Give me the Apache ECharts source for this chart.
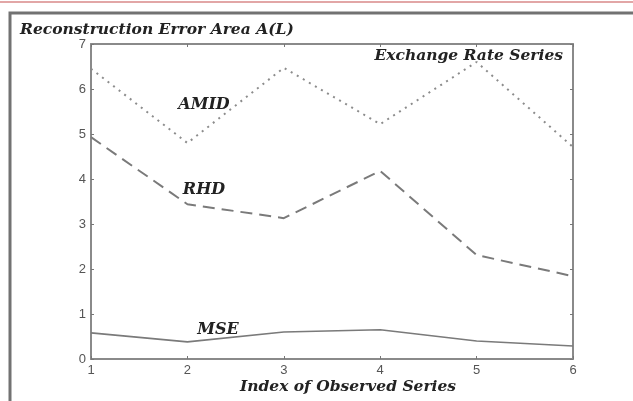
<!DOCTYPE html>
<html>
<head>
<meta charset="utf-8">
<script src="https://cdn.jsdelivr.net/npm/echarts@6/dist/echarts.min.js"></script>
<style>
  html, body { margin: 0; padding: 0; background: #fff; }
  #chart { width: 633px; height: 401px; }
</style>
</head>
<body>
<div id="chart"></div>
<script>
// Index of observed series (x) and reconstruction error area per method
const seriesIndex = [1, 2, 3, 4, 5, 6];
const amidValues = [6.45, 4.8, 6.47, 5.22, 6.6, 4.71];
const rhdValues = [4.93, 3.44, 3.13, 4.18, 2.31, 1.84];
const mseValues = [0.58, 0.38, 0.6, 0.65, 0.4, 0.29];
const yTicks = [0, 1, 2, 3, 4, 5, 6, 7];

const chart = echarts.init(document.getElementById('chart'), null, { renderer: 'canvas' });

const pairs = vals => seriesIndex.map((x, i) => [x, vals[i]]);
const serif = '"DejaVu Serif", "Liberation Serif", serif';
const sans = '"Liberation Sans", Arial, sans-serif';
const lineGrey = '#7a7a7a';
const labelFont = 'italic bold 16px ' + serif;

const baseAxis = {
  axisLine: { show: true, onZero: false, lineStyle: { color: '#8a8a8a', width: 2 } },
  axisTick: { show: true, inside: true, length: 3, lineStyle: { color: '#777', width: 1 } },
  splitLine: { show: false }
};

chart.setOption({
  animation: false,
  backgroundColor: '#fff',
  title: [
    {
      text: 'Reconstruction Error Area A(L)',
      left: 15, top: 17,
      textStyle: { fontFamily: serif, fontStyle: 'italic', fontWeight: 'bold', fontSize: 15.5, color: '#222' }
    },
    {
      text: 'Exchange Rate Series',
      right: 65, top: 43,
      textStyle: { fontFamily: serif, fontStyle: 'italic', fontWeight: 'bold', fontSize: 15.5, color: '#222' }
    }
  ],
  grid: { left: 91, top: 44, right: 60, bottom: 42, containLabel: false },
  xAxis: [
    Object.assign({}, baseAxis, {
      type: 'value', min: 1, max: 6, interval: 1, position: 'bottom',
      axisLabel: { fontFamily: sans, fontSize: 13, color: '#555', margin: 5 }
    }),
    Object.assign({}, baseAxis, {
      type: 'value', min: 1, max: 6, interval: 1, position: 'top',
      axisLabel: { show: false }
    })
  ],
  yAxis: [
    Object.assign({}, baseAxis, {
      type: 'value', min: yTicks[0], max: yTicks[yTicks.length - 1], interval: 1, position: 'left',
      axisLabel: { fontFamily: sans, fontSize: 13, color: '#555', margin: 5 }
    }),
    Object.assign({}, baseAxis, {
      type: 'value', min: yTicks[0], max: yTicks[yTicks.length - 1], interval: 1, position: 'right',
      axisLabel: { show: false }
    })
  ],
  series: [
    {
      name: 'AMID', type: 'line', data: pairs(amidValues), symbol: 'none',
      lineStyle: { color: '#8c8c8c', width: 2, type: [2, 5] },
      z: 3
    },
    {
      name: 'RHD', type: 'line', data: pairs(rhdValues), symbol: 'none',
      lineStyle: { color: lineGrey, width: 2, type: [12, 7] },
      z: 3
    },
    {
      name: 'MSE', type: 'line', data: pairs(mseValues), symbol: 'none',
      lineStyle: { color: lineGrey, width: 1.6 },
      z: 3
    }
  ],
  graphic: [
    // thin rule along the very top
    { type: 'rect', shape: { x: 0, y: 1, width: 633, height: 2 }, style: { fill: '#e2a6a6' }, silent: true },
    // outer frame, open past the right and bottom edges
    { type: 'rect', shape: { x: 10, y: 13, width: 640, height: 400 }, style: { fill: 'none', stroke: '#727272', lineWidth: 3 }, silent: true },
    // x-axis title
    { type: 'text', x: 348, y: 387, style: { text: 'Index of Observed Series', font: 'italic bold 15.5px ' + serif, fill: '#222', align: 'center', verticalAlign: 'middle' } },
    // curve names
    { type: 'text', x: 204, y: 105, style: { text: 'AMID', font: labelFont, fill: '#222', align: 'center', verticalAlign: 'middle' } },
    { type: 'text', x: 204, y: 190, style: { text: 'RHD', font: labelFont, fill: '#222', align: 'center', verticalAlign: 'middle' } },
    { type: 'text', x: 218, y: 330, style: { text: 'MSE', font: labelFont, fill: '#222', align: 'center', verticalAlign: 'middle' } }
  ]
});
</script>
</body>
</html>
